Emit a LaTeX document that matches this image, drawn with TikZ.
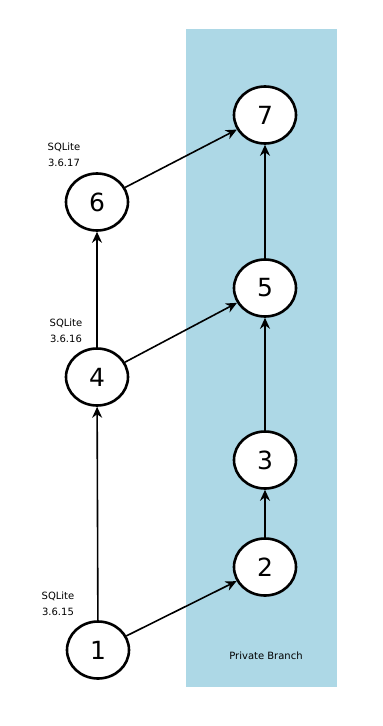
\documentclass[tikz,border=0pt]{standalone}
\usepackage{fontspec}
\setmainfont{DejaVu Sans}
\usetikzlibrary{shapes.geometric,arrows.meta}
\definecolor{branchblue}{HTML}{ADD8E6}
\begin{document}
\begin{tikzpicture}[x=1pt,y=-1pt,
  commit/.style={ellipse,draw=black,line width=2.6pt,fill=white,minimum width=62pt,minimum height=57pt,inner sep=0pt,font=\fontsize{25}{27}\selectfont},
  link/.style={line width=1.6pt,-{Stealth[length=11pt,width=10pt]}},
  lbl/.style={font=\fontsize{10}{16}\selectfont,align=center}]
\useasboundingbox (0,0) rectangle (383,726);
\fill[branchblue] (186,29) rectangle (337,687);
\node[commit] (n1) at (98,650) {1};
\node[commit] (n2) at (265,567) {2};
\node[commit] (n3) at (265,460) {3};
\node[commit] (n4) at (97,377) {4};
\node[commit] (n5) at (265,288) {5};
\node[commit] (n6) at (97,202) {6};
\node[commit] (n7) at (265,115) {7};
\draw[link] (n1) -- (n2);
\draw[link] (n1) -- (n4);
\draw[link] (n4) -- (n6);
\draw[link] (n4) -- (n5);
\draw[link] (n6) -- (n7);
\draw[link] (n2) -- (n3);
\draw[link] (n3) -- (n5);
\draw[link] (n5) -- (n7);
\node[lbl] (l6) at (64,155) {SQLite\\3.6.17};
\node[lbl] (l4) at (66,331) {SQLite\\3.6.16};
\node[lbl] (l1) at (58,604) {SQLite\\3.6.15};
\node[lbl] (pb) at (266,656) {Private Branch};
\end{tikzpicture}
\end{document}
